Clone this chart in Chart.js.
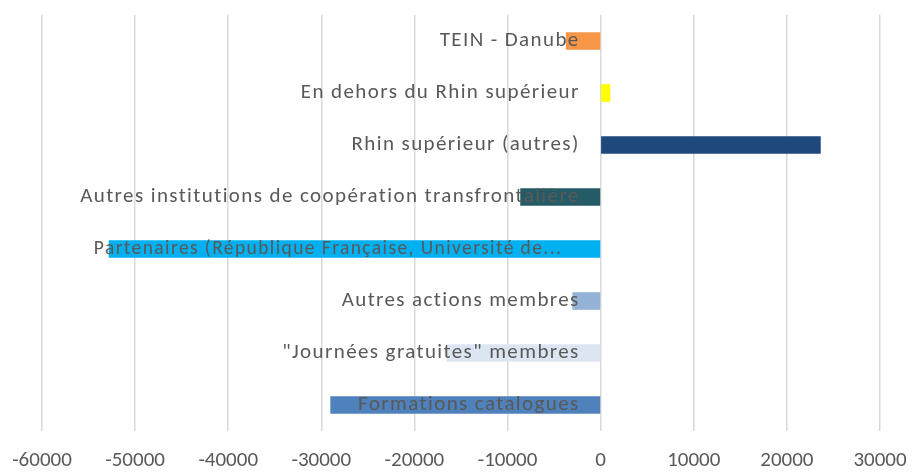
<!DOCTYPE html>
<html>
<head>
<meta charset="utf-8">
<script src="https://cdn.jsdelivr.net/npm/chart.js@4/dist/chart.umd.min.js"></script>
<style>
  html, body { margin: 0; padding: 0; background: #fff; }
  #wrap { width: 912px; height: 472px; }
</style>
</head>
<body>
<div id="wrap"><canvas id="myChart"></canvas></div>
<script>
// categories, top to bottom
const categories = [
    'TEIN - Danube',
    'En dehors du Rhin supérieur',
    'Rhin supérieur (autres)',
    'Autres institutions de coopération transfrontalière',
    'Partenaires (République Française, Université de...   ',
    'Autres actions membres',
    '"Journées gratuites" membres',
    'Formations catalogues'
];
const values = [-3700, 1000, 23600, -8600, -52800, -3000, -16500, -29000];
const barColors = ['#F79646', '#FFFF00', '#1F497D', '#245B66', '#00B0F0', '#95B3D7', '#DCE6F2', '#4F81BD'];
const xTicks = [-60000, -50000, -40000, -30000, -20000, -10000, 0, 10000, 20000, 30000];

const fontFamily = 'Carlito, Lato, "Open Sans", sans-serif';
const textColor = '#595959';

// category labels sit on top of the bars, a bit spaced out like the Excel render
const labelSpacing = {
    id: 'labelSpacing',
    afterDatasetsDraw(chart) {
        chart.ctx.letterSpacing = '1.4px';
    },
    afterDraw(chart) {
        chart.ctx.letterSpacing = '0px';
    }
};

let ctx = document.getElementById('myChart').getContext('2d');

let myBarChart = new Chart(ctx, {
    type: 'bar',
    data: {
        labels: categories,
        datasets: [{
            data: values,
            backgroundColor: barColors,
            barThickness: 17
        }]
    },
    plugins: [labelSpacing],
    options: {
        indexAxis: 'y',
        responsive: true,
        maintainAspectRatio: false,
        animation: false,
        layout: {
            padding: { left: 42, right: 32, top: 15, bottom: 0 }
        },
        plugins: {
            legend: { display: false },
            tooltip: { enabled: false }
        },
        scales: {
            x: {
                min: -60000,
                max: 30000,
                afterBuildTicks: function(scale) {
                    scale.ticks = xTicks.map(v => ({ value: v }));
                },
                afterFit: function(scale) {
                    scale.paddingLeft = 0;
                    scale.paddingRight = 0;
                    scale.height = 41;
                },
                grid: { color: '#D9D9D9', lineWidth: 1.5, drawTicks: false },
                border: { display: false },
                ticks: {
                    padding: 17,
                    color: textColor,
                    font: { family: fontFamily, size: 21 },
                    maxRotation: 0,
                    autoSkip: false,
                    callback: function(value) {
                        return String(value);
                    }
                }
            },
            y: {
                // labels end a little left of the zero line
                position: { x: -2250 },
                grid: { display: false, drawTicks: false },
                border: { display: false },
                afterFit: function(scale) {
                    scale.paddingTop = 0;
                    scale.paddingBottom = 0;
                },
                ticks: {
                    z: 1,
                    color: textColor,
                    // the long truncated label is set a bit tighter in the original
                    font: function(c) {
                        return { family: fontFamily, size: c.index === 4 ? 19.5 : 21 };
                    },
                    autoSkip: false
                }
            }
        }
    }
});
</script>
</body>
</html>
